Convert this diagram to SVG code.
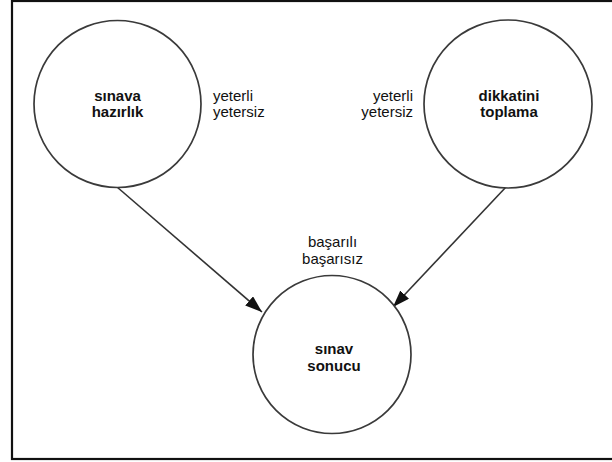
<svg xmlns="http://www.w3.org/2000/svg" width="612" height="462" viewBox="0 0 612 462">
  <style>
    .node { fill: #ffffff; stroke: #3a3a3a; stroke-width: 1.7; }
    .label { font-family: "Liberation Sans", Arial, sans-serif; font-size: 15px; fill: #111111; }
    .bold { font-weight: bold; text-anchor: middle; }
    .edge { stroke: #333333; stroke-width: 1.6; fill: none; }
  </style>
  <defs>
    <marker id="arrow" viewBox="0 0 17 12" refX="17" refY="6" markerWidth="17" markerHeight="12" markerUnits="userSpaceOnUse" orient="auto">
      <path d="M0,0 L17,6 L0,12 z" fill="#111111"/>
    </marker>
  </defs>

  <!-- frame -->
  <rect x="0" y="0" width="612" height="462" fill="#ffffff"/>
  <rect x="12" y="1" width="610" height="458" fill="none" stroke="#111111" stroke-width="2.2"/>

  <!-- connectors -->
  <g id="edges">
    <line class="edge" x1="117" y1="187" x2="262" y2="312" marker-end="url(#arrow)"/>
    <line class="edge" x1="506" y1="187" x2="393" y2="307" marker-end="url(#arrow)"/>
  </g>

  <g id="sinava-hazirlik">
    <circle class="node" cx="117.5" cy="104" r="83.5"/>
    <text class="label bold" x="117.5" y="101">sınava</text>
    <text class="label bold" x="117.5" y="117">hazırlık</text>
    <text class="label" x="213" y="101">yeterli</text>
    <text class="label" x="213" y="117">yetersiz</text>
  </g>

  <g id="dikkatini-toplama">
    <circle class="node" cx="508" cy="104" r="84"/>
    <text class="label bold" x="509" y="101">dikkatini</text>
    <text class="label bold" x="509" y="117">toplama</text>
    <text class="label" x="413" y="101" text-anchor="end">yeterli</text>
    <text class="label" x="413" y="117" text-anchor="end">yetersiz</text>
  </g>

  <g id="sinav-sonucu">
    <circle class="node" cx="332" cy="354.5" r="79"/>
    <text class="label bold" x="334" y="354">sınav</text>
    <text class="label bold" x="334" y="371">sonucu</text>
    <text class="label" x="332.5" y="247" text-anchor="middle">başarılı</text>
    <text class="label" x="332.5" y="264" text-anchor="middle">başarısız</text>
  </g>
</svg>
